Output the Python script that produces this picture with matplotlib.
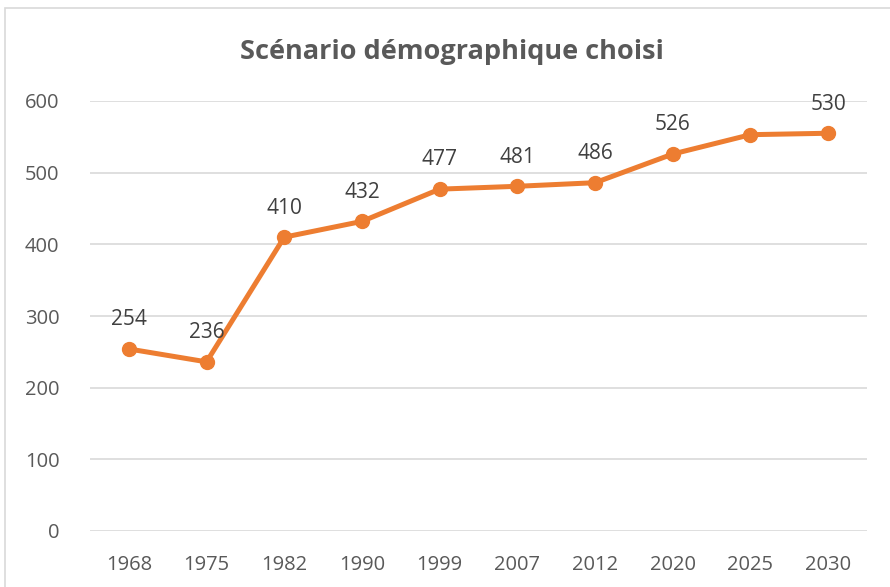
import matplotlib.pyplot as plt
from matplotlib.patches import Rectangle

# data
years = ["1968", "1975", "1982", "1990", "1999", "2007", "2012", "2020", "2025", "2030"]
population = [254, 236, 410, 432, 477, 481, 486, 526, 553, 555]
point_labels = ["254", "236", "410", "432", "477", "481", "486", "526", "", "530"]
y_ticks = [0, 100, 200, 300, 400, 500, 600]

plt.rcParams['font.family'] = ['Open Sans', 'DejaVu Sans']

fig = plt.figure(figsize=(8.9, 5.87), dpi=100)
ax = fig.add_axes([90 / 890, 1 - 531 / 587, 777 / 890, 430 / 587])

# light frame around the chart area
fig.patches.append(Rectangle((5 / 890, -0.05), 1.1, 1 - 8 / 587 + 0.05, transform=fig.transFigure,
                             fill=False, edgecolor='#d9d9d9', linewidth=1.2))

x = range(len(years))
ax.plot(x, population, color='#ED7D31', linewidth=3.6, marker='o', markersize=10, zorder=3)

for i, lab in enumerate(point_labels):
    if lab:
        ax.annotate(lab, (i, population[i]), xytext=(0, 21), textcoords='offset points',
                    ha='center', va='center', fontsize=15, color='#404040')

ax.set_xlim(-0.5, len(years) - 0.5)
ax.set_ylim(0, 600)
ax.set_xticks(list(x))
ax.set_xticklabels(years)
ax.set_yticks(y_ticks)
ax.grid(axis='y', color='#d9d9d9', linewidth=1.2)
ax.set_axisbelow(True)
for s in ax.spines.values():
    s.set_visible(False)
ax.tick_params(length=0, labelsize=14.5, colors='#595959')
ax.tick_params(axis='x', pad=17)
ax.tick_params(axis='y', pad=22)

fig.text(452 / 890, 1 - 52 / 587, "Scénario démographique choisi", ha='center', va='center',
         fontsize=19.5, fontweight='bold', color='#595959')

fig.savefig("out.png", dpi=100)
